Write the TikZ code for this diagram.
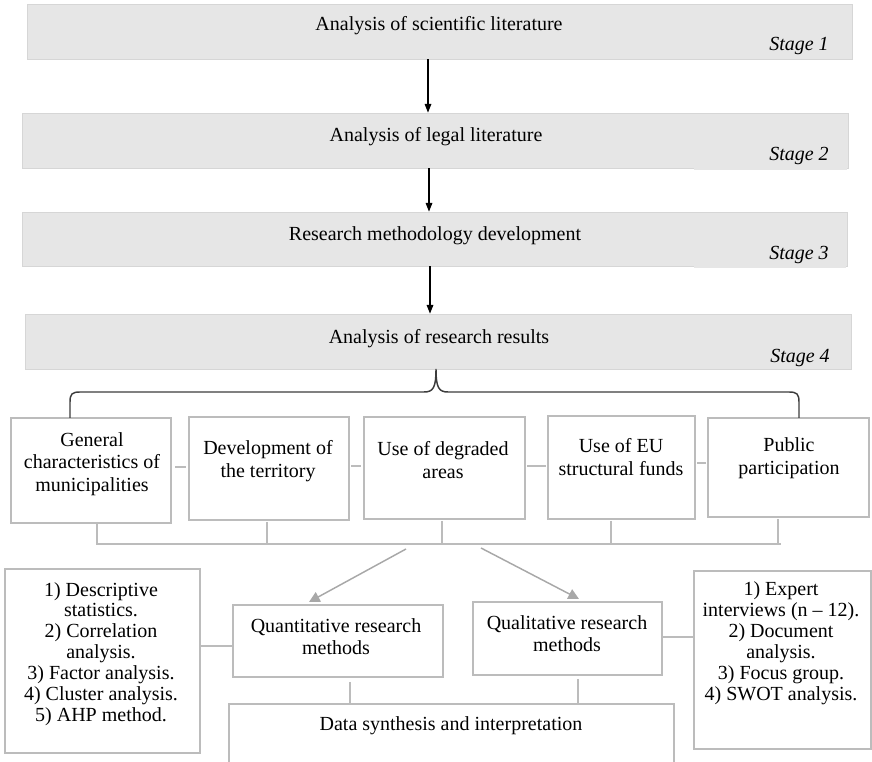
\documentclass[tikz,border=0pt]{standalone}
\usepackage{fontspec}
\setmainfont{Liberation Serif}
\usetikzlibrary{arrows.meta,fit}
\definecolor{stagefill}{RGB}{230,230,230}
\definecolor{stageline}{RGB}{214,214,214}
\definecolor{boxline}{RGB}{188,188,188}
\definecolor{arrgray}{RGB}{168,168,168}
\definecolor{bracecol}{RGB}{60,60,60}
\begin{document}
\begin{tikzpicture}[x=0.75pt,y=-0.75pt,
  stagebox/.style={rectangle,fill=stagefill,draw=stageline,line width=0.6pt,inner sep=0},
  gbox/.style={rectangle,draw=boxline,line width=1pt,inner sep=0},
  txt/.style={font=\fontsize{15}{17}\selectfont,align=center,inner sep=0},
  qtxt/.style={font=\fontsize{15}{16.5}\selectfont,align=center,inner sep=0},
  ltxt/.style={font=\fontsize{15}{15.7}\selectfont,align=center,inner sep=0},
  stlabel/.style={font=\fontsize{15}{17}\selectfont\itshape,anchor=east,inner sep=0},
  blk/.style={line width=0.8pt,-{Triangle[length=6.5pt,width=5pt]}},
  garr/.style={draw=arrgray,line width=1.1pt,-{Triangle[length=8pt,width=8pt]},arrgray},
  conn/.style={draw=boxline,line width=1pt},
]
\useasboundingbox (0,0) rectangle (872,762);

% ---- stages
\node[stagebox,fit={(27,4) (852,59)}] (s1) {};
\node[stagebox,fit={(22,113) (848,168)}] (s2) {};
\fill[stagefill] (694,150) rectangle (847,170);
\node[stagebox,fit={(22,212) (847,266)}] (s3) {};
\fill[stagefill] (694,250) rectangle (846,268);
\node[stagebox,fit={(25,314) (851,369)}] (s4) {};

\node[txt] (s1t) at (439,26) {Analysis of scientific literature};
\node[stlabel] (s1l) at (829,46) {Stage 1};
\node[txt] (s2t) at (436,137) {Analysis of legal literature};
\node[stlabel] (s2l) at (829,156) {Stage 2};
\node[txt] (s3t) at (435,236) {Research methodology development};
\node[stlabel] (s3l) at (829,255) {Stage 3};
\node[txt] (s4t) at (439,339) {Analysis of research results};
\node[stlabel] (s4l) at (830,358) {Stage 4};

\coordinate (a1) at (428,0);
\coordinate (a2) at (429,0);
\coordinate (a3) at (430,0);
\draw[blk] (a1 |- s1.south) -- (a1 |- s2.north);
\draw[blk] (a2 |- s2.south) -- (a2 |- s3.north);
\draw[blk] (a3 |- s3.south) -- (a3 |- s4.north);

% ---- five boxes
\node[gbox,fit={(11,418) (171,523)}] (b1) {};
\node[gbox,fit={(189,417) (349,520)}] (b2) {};
\node[gbox,fit={(364,417) (525,519)}] (b3) {};
\node[gbox,fit={(548,416) (695,519)}] (b4) {};
\node[gbox,fit={(708,418) (869,517)}] (b5) {};

\node[txt] (b1t) at (92,464) {General\\characteristics of\\municipalities};
\node[txt] (b2t) at (268,461) {Development of\\the territory};
\node[txt] (b3t) at (443,460) {Use of degraded\\areas};
\node[txt] (b4t) at (621,457) {Use of EU\\structural funds};
\node[txt] (b5t) at (789,458) {Public\\participation};

% brace
\coordinate (bl) at (70,418);
\coordinate (br) at (799,418);
\coordinate (bm) at (436,369);
\draw[bracecol,line width=1.1pt]
  (bl) -- (70,402) .. controls (70,394) and (72,392) .. (80,392) -- (424,392)
  .. controls (433,392) and (436,388) .. (bm)
  .. controls (436,388) and (439,392) .. (448,392) -- (789,392)
  .. controls (797,392) and (799,394) .. (799,402) -- (br);

% short links between boxes
\draw[conn] (175,467) -- (186,467);
\draw[conn] (351,466) -- (361,466);
\draw[conn] (527,466) -- (546,466);
\draw[conn] (697,463) -- (706,463);

% bottom comb
\coordinate (v1) at (97,544);
\coordinate (v2) at (267,544);
\coordinate (v3) at (442,544);
\coordinate (v4) at (611,544);
\coordinate (v5) at (778,544);
\draw[conn] (97,522) -- (v1);
\draw[conn] (267,522) -- (v2);
\draw[conn] (442,521) -- (v3);
\draw[conn] (611,521) -- (v4);
\draw[conn] (778,519) -- (v5);
\draw[conn] (96,544) -- (781,544);

% methods
\node[gbox,fit={(233,605) (443,677)}] (qn) {};
\node[gbox,fit={(473,602) (662,675)}] (ql) {};
\node[gbox,fit={(5,569) (200,753)}] (ll) {};
\node[gbox,fit={(694,571) (871,749)}] (rl) {};
\node[gbox,fit={(229,704) (674,800)}] (ds) {};

\node[qtxt] (qnt) at (336,637) {Quantitative research\\methods};
\node[qtxt] (qlt) at (567,634) {Qualitative research\\methods};
\node[ltxt] (llt) at (101,654) {1) Descriptive\\statistics.\\2) Correlation\\analysis.\\3) Factor analysis.\\4) Cluster analysis.\\5) AHP method.};
\node[ltxt] (rlt) at (781,643) {1) Expert\\interviews (n – 12).\\2) Document\\analysis.\\3) Focus group.\\4) SWOT analysis.};
\node[txt] (dst) at (451,726) {Data synthesis and interpretation};

\coordinate (g1) at (406,549);
\coordinate (g2) at (481,548);
\coordinate (g1e) at (309,602);
\coordinate (g2e) at (579,599);
\draw[garr] (g1) -- (g1e);
\draw[garr] (g2) -- (g2e);

\coordinate (yl) at (0,646);
\coordinate (yr) at (0,637);
\coordinate (q1) at (350,682);
\coordinate (q2) at (578,679);
\draw[conn] (ll.east |- yl) -- (qn.west |- yl);
\draw[conn] (ql.east |- yr) -- (rl.west |- yr);
\draw[conn] (q1) -- (q1 |- ds.north);
\draw[conn] (q2) -- (q2 |- ds.north);
\end{tikzpicture}
\end{document}
